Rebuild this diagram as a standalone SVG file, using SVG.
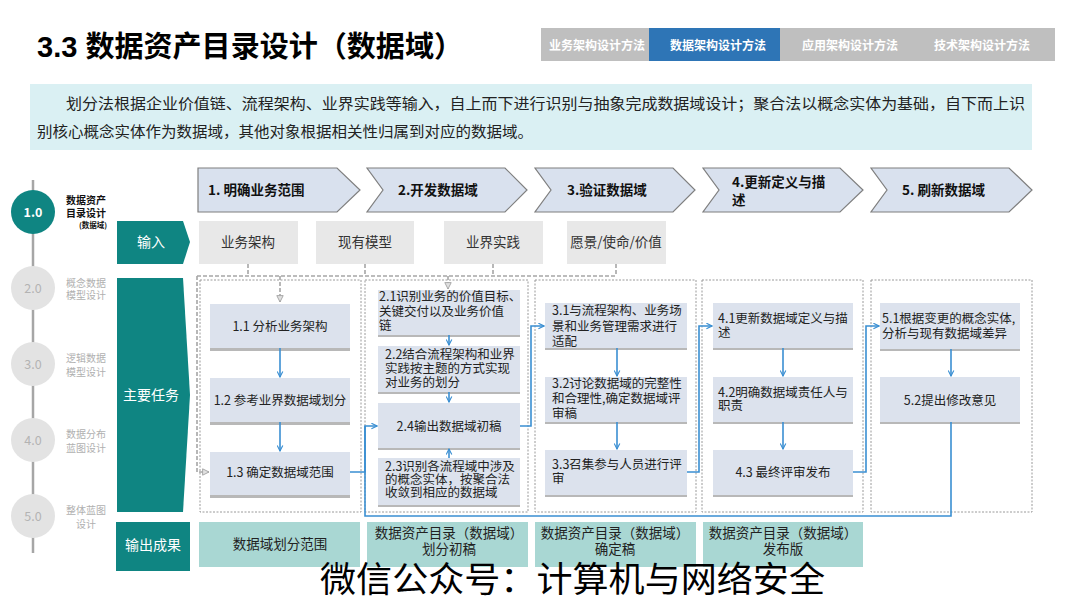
<svg xmlns="http://www.w3.org/2000/svg" width="1080" height="608" viewBox="0 0 1080 608">
<defs>
<style>
.t{font-family:"Noto Sans CJK SC","Liberation Sans",sans-serif;}
.title{font-family:"Liberation Sans","Noto Sans CJK SC",sans-serif;font-weight:bold;font-size:29px;fill:#000;}
.tab{font-size:12px;font-weight:bold;fill:#fff;text-anchor:middle;}
.intro{font-size:15px;fill:#222;}
.chev{fill:#d9e1ee;stroke:#7f7f7f;stroke-width:1.2;}
.chevt{font-size:13.5px;font-weight:bold;fill:#111;}
.inbox{fill:#e8e8e8;}
.intx{font-size:13.5px;fill:#333;text-anchor:middle;}
.teal{fill:#0f8582;}
.rowt{font-size:14px;fill:#fff;text-anchor:middle;}
.col{fill:none;stroke:#9a9a9a;stroke-width:1;stroke-dasharray:2 1.5;}
.task{fill:#dce2ed;}
.shadow{fill:#b8b8b8;}
.tt{font-size:12.5px;fill:#222;}
.tc{text-anchor:middle;}
.outbox{fill:#a9d7d3;}
.outt{font-size:13.5px;fill:#222;text-anchor:middle;}
.blue{fill:none;stroke:#3a8fd2;stroke-width:1.6;}
.gdash{fill:none;stroke:#a6a6a6;stroke-width:1.6;stroke-dasharray:4 2;}
.circ-on{fill:#0f8582;}
.circ-off{fill:#e3e3e3;}
.cnum-on{font-size:12.5px;font-weight:bold;fill:#fff;text-anchor:middle;}
.cnum-off{font-size:12.5px;fill:#b3b3b3;text-anchor:middle;}
.sl-on{font-size:10px;font-weight:bold;fill:#111;text-anchor:middle;}
.sl-off{font-size:10px;fill:#b0b0b0;text-anchor:middle;}
</style>
<marker id="ab" viewBox="0 0 10 10" refX="9" refY="5" markerWidth="7" markerHeight="7" orient="auto" markerUnits="userSpaceOnUse">
<path d="M1,1 L9,5 L1,9" fill="none" stroke="#3a8fd2" stroke-width="1.6"/>
</marker>
<marker id="ag" viewBox="0 0 10 10" refX="9" refY="5" markerWidth="8" markerHeight="8" orient="auto" markerUnits="userSpaceOnUse">
<path d="M1,1 L9,5 L1,9 Z" fill="#e0e0e0" stroke="#a6a6a6" stroke-width="1.2"/>
</marker>
</defs>
<rect width="1080" height="608" fill="#fff"/>

<g id="title"><text class="title" x="37" y="57" textLength="426" lengthAdjust="spacingAndGlyphs">3.3 数据资产目录设计（数据域）</text></g>

<g id="tabs" class="t">
<rect x="541" y="28" width="108" height="33" fill="#bfbfbf"/>
<rect x="649" y="28" width="131" height="33" fill="#2e75b6"/>
<rect x="780" y="28" width="275" height="33" fill="#bfbfbf"/>
<text class="tab" x="597" y="50">业务架构设计方法</text>
<text class="tab" x="718" y="50">数据架构设计方法</text>
<text class="tab" x="850" y="50">应用架构设计方法</text>
<text class="tab" x="982" y="50">技术架构设计方法</text>
</g>

<g id="intro" class="t">
<rect x="30" y="84" width="1002" height="66" fill="#daf0f3"/>
<text class="intro" x="66" y="109" textLength="959" lengthAdjust="spacingAndGlyphs">划分法根据企业价值链、流程架构、业界实践等输入，自上而下进行识别与抽象完成数据域设计；聚合法以概念实体为基础，自下而上识</text>
<text class="intro" x="37" y="137" textLength="496" lengthAdjust="spacingAndGlyphs">别核心概念实体作为数据域，其他对象根据相关性归属到对应的数据域。</text>
</g>

<g id="sidebar" class="t">
<line x1="33" y1="180" x2="33" y2="553" stroke="#a6a6a6" stroke-width="2.5"/>
<circle class="circ-on" cx="33" cy="212" r="22"/>
<text class="cnum-on" x="33" y="217">1.0</text>
<circle class="circ-off" cx="33" cy="288" r="22"/>
<text class="cnum-off" x="33" y="293">2.0</text>
<circle class="circ-off" cx="33" cy="364" r="22"/>
<text class="cnum-off" x="33" y="369">3.0</text>
<circle class="circ-off" cx="33" cy="440" r="22"/>
<text class="cnum-off" x="33" y="445">4.0</text>
<circle class="circ-off" cx="33" cy="516" r="22"/>
<text class="cnum-off" x="33" y="521">5.0</text>
<text class="sl-on" x="86" y="204">数据资产</text>
<text class="sl-on" x="86" y="217">目录设计</text>
<text class="sl-on" x="93" y="228" style="font-size:7.5px">(数据域)</text>
<text class="sl-off" x="86" y="287">概念数据</text>
<text class="sl-off" x="86" y="299">模型设计</text>
<text class="sl-off" x="86" y="362">逻辑数据</text>
<text class="sl-off" x="86" y="376">模型设计</text>
<text class="sl-off" x="86" y="438">数据分布</text>
<text class="sl-off" x="86" y="452">蓝图设计</text>
<text class="sl-off" x="86" y="514">整体蓝图</text>
<text class="sl-off" x="86" y="528">设计</text>
</g>

<g id="row-input" class="t">
<path class="teal" d="M117,221 L183,221 L190,242 L183,264 L117,264 Z"/>
<text class="rowt" x="151" y="247">输入</text>
</g>
<g id="row-tasks" class="t">
<path class="teal" d="M117,278 L183,278 L190,395 L183,512 L117,512 Z"/>
<text class="rowt" x="151" y="400">主要任务</text>
</g>
<g id="row-output" class="t">
<rect class="teal" x="116" y="522" width="74" height="49"/>
<text class="rowt" x="153" y="550">输出成果</text>
</g>

<g id="phases" class="t">
<path class="chev" d="M198,168 L337,168 L360,190 L337,212 L198,212 Z"/>
<text class="chevt" x="208" y="195">1. 明确业务范围</text>
<path class="chev" d="M367,168 L505,168 L527,190 L505,212 L367,212 L383,190 Z"/>
<text class="chevt" x="398" y="195">2.开发数据域</text>
<path class="chev" d="M535,168 L673,168 L695,190 L673,212 L535,212 L551,190 Z"/>
<text class="chevt" x="567" y="195">3.验证数据域</text>
<path class="chev" d="M703,168 L840,168 L863,190 L840,212 L703,212 L719,190 Z"/>
<text class="chevt" x="732" y="187">4.更新定义与描</text>
<text class="chevt" x="732" y="205">述</text>
<path class="chev" d="M871,168 L1009,168 L1032,190 L1009,212 L871,212 L887,190 Z"/>
<text class="chevt" x="902" y="195">5. 刷新数据域</text>
</g>

<g id="inputs" class="t">
<g id="in1"><rect class="inbox" x="199" y="221" width="99" height="43"/><text class="intx" x="248" y="247">业务架构</text></g>
<g id="in2"><rect class="inbox" x="316" y="221" width="98" height="43"/><text class="intx" x="365" y="247">现有模型</text></g>
<g id="in3"><rect class="inbox" x="444" y="221" width="99" height="43"/><text class="intx" x="493" y="247">业界实践</text></g>
<g id="in4"><rect class="inbox" x="567" y="221" width="99" height="43"/><text class="intx" x="616" y="247">愿景/使命/价值</text></g>
</g>

<g id="columns">
<rect class="col" x="200" y="280" width="161" height="232"/>
<rect class="col" x="365" y="280" width="163" height="232"/>
<rect class="col" x="535" y="280" width="161" height="232"/>
<rect class="col" x="702" y="280" width="161" height="232"/>
<rect class="col" x="871" y="280" width="161" height="232"/>
</g>

<g id="tasks" class="t">
<g id="t11"><rect class="shadow" x="210" y="306" width="140" height="45"/><rect class="task" x="210" y="304" width="140" height="44"/><text class="tt tc" x="280" y="331">1.1 分析业务架构</text></g>
<g id="t12"><rect class="shadow" x="210" y="380" width="140" height="45"/><rect class="task" x="210" y="378" width="140" height="44"/><text class="tt tc" x="280" y="405">1.2 参考业界数据域划分</text></g>
<g id="t13"><rect class="shadow" x="210" y="454" width="140" height="44"/><rect class="task" x="210" y="452" width="140" height="43"/><text class="tt tc" x="280" y="477">1.3 确定数据域范围</text></g>

<g id="t21"><rect class="shadow" x="378" y="292" width="142" height="45"/><rect class="task" x="378" y="290" width="142" height="45"/><text class="tt" x="379" y="301">2.1识别业务的价值目标、</text><text class="tt" x="379" y="316">关键交付以及业务价值</text><text class="tt" x="379" y="330">链</text></g>
<g id="t22"><rect class="shadow" x="378" y="348" width="142" height="46"/><rect class="task" x="378" y="346" width="142" height="46"/><text class="tt" x="385" y="359">2.2结合流程架构和业界</text><text class="tt" x="385" y="373">实践按主题的方式实现</text><text class="tt" x="385" y="387">对业务的划分</text></g>
<g id="t24"><rect class="shadow" x="378" y="405" width="142" height="45"/><rect class="task" x="378" y="403" width="142" height="45"/><text class="tt tc" x="449" y="431">2.4输出数据域初稿</text></g>
<g id="t23"><rect class="shadow" x="378" y="460" width="142" height="47"/><rect class="task" x="378" y="458" width="142" height="47"/><text class="tt" x="385" y="471">2.3识别各流程域中涉及</text><text class="tt" x="385" y="484">的概念实体，按聚合法</text><text class="tt" x="385" y="497">收敛到相应的数据域</text></g>

<g id="t31"><rect class="shadow" x="545" y="305" width="142" height="45"/><rect class="task" x="545" y="303" width="142" height="45"/><text class="tt" x="552" y="315">3.1与流程架构、业务场</text><text class="tt" x="552" y="331">景和业务管理需求进行</text><text class="tt" x="552" y="346">适配</text></g>
<g id="t32"><rect class="shadow" x="545" y="379" width="142" height="45"/><rect class="task" x="545" y="377" width="142" height="45"/><text class="tt" x="552" y="388">3.2讨论数据域的完整性</text><text class="tt" x="552" y="403">和合理性,确定数据域评</text><text class="tt" x="552" y="418">审稿</text></g>
<g id="t33"><rect class="shadow" x="545" y="452" width="142" height="45"/><rect class="task" x="545" y="450" width="142" height="45"/><text class="tt" x="552" y="469">3.3召集参与人员进行评</text><text class="tt" x="552" y="483">审</text></g>

<g id="t41"><rect class="shadow" x="713" y="305" width="140" height="45"/><rect class="task" x="713" y="303" width="140" height="45"/><text class="tt" x="718" y="323">4.1更新数据域定义与描</text><text class="tt" x="718" y="337">述</text></g>
<g id="t42"><rect class="shadow" x="713" y="379" width="140" height="45"/><rect class="task" x="713" y="377" width="140" height="45"/><text class="tt" x="718" y="397">4.2明确数据域责任人与</text><text class="tt" x="718" y="410">职责</text></g>
<g id="t43"><rect class="shadow" x="713" y="452" width="140" height="45"/><rect class="task" x="713" y="450" width="140" height="45"/><text class="tt tc" x="783" y="477">4.3 最终评审发布</text></g>

<g id="t51"><rect class="shadow" x="880" y="305" width="140" height="46"/><rect class="task" x="880" y="303" width="140" height="46"/><text class="tt" x="882" y="323">5.1根据变更的概念实体,</text><text class="tt" x="882" y="338">分析与现有数据域差异</text></g>
<g id="t52"><rect class="shadow" x="880" y="379" width="140" height="45"/><rect class="task" x="880" y="377" width="140" height="45"/><text class="tt tc" x="950" y="405">5.2提出修改意见</text></g>
</g>

<g id="outputs" class="t">
<g id="o1"><rect class="outbox" x="199" y="522" width="161" height="45"/><text class="outt" x="280" y="549">数据域划分范围</text></g>
<g id="o2"><rect class="outbox" x="367" y="522" width="161" height="45"/><text class="outt" x="449" y="538">数据资产目录（数据域）</text><text class="outt" x="449" y="554">划分初稿</text></g>
<g id="o3"><rect class="outbox" x="535" y="522" width="161" height="45"/><text class="outt" x="615" y="538">数据资产目录（数据域）</text><text class="outt" x="615" y="554">确定稿</text></g>
<g id="o4"><rect class="outbox" x="703" y="522" width="160" height="45"/><text class="outt" x="783" y="538">数据资产目录（数据域）</text><text class="outt" x="783" y="554">发布版</text></g>
</g>

<g id="connectors">
<path class="gdash" d="M248,264 V276 M365,264 V276 M493,264 V276 M616,264 V276 M197,276 H616"/>
<path class="gdash" d="M280,276 V302" marker-end="url(#ag)"/>
<path class="gdash" d="M448,276 V289" marker-end="url(#ag)"/>
<path class="gdash" d="M197,276 V472 H209" marker-end="url(#ag)"/>

<path class="blue" d="M280,348 V377" marker-end="url(#ab)"/>
<path class="blue" d="M280,422 V451" marker-end="url(#ab)"/>
<path class="blue" d="M449,335 V345" marker-end="url(#ab)"/>
<path class="blue" d="M449,392 V402" marker-end="url(#ab)"/>
<path class="blue" d="M449,458 V449" marker-end="url(#ab)"/>
<path class="blue" d="M617,348 V376" marker-end="url(#ab)"/>
<path class="blue" d="M617,422 V449" marker-end="url(#ab)"/>
<path class="blue" d="M783,348 V376" marker-end="url(#ab)"/>
<path class="blue" d="M783,422 V449" marker-end="url(#ab)"/>
<path class="blue" d="M951,349 V376" marker-end="url(#ab)"/>

<path class="blue" d="M350,472 H365 V426 H377" marker-end="url(#ab)"/>
<path class="blue" d="M951,422 V516 H365 V426"/>
<path class="blue" d="M520,426 H531 V326 H544" marker-end="url(#ab)"/>
<path class="blue" d="M687,472 H699 V326 H712" marker-end="url(#ab)"/>
<path class="blue" d="M853,472 H866 V326 H879" marker-end="url(#ab)"/>
</g>

<g id="watermark"><text class="t" x="320" y="592" style="font-size:35px;fill:#000" textLength="505" lengthAdjust="spacingAndGlyphs">微信公众号：计算机与网络安全</text></g>
</svg>
